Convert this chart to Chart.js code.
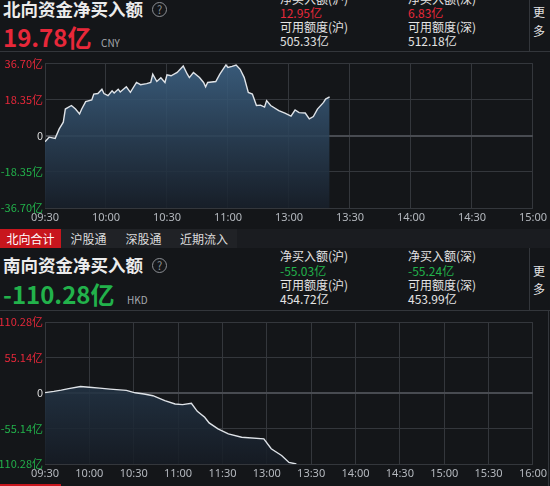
<!DOCTYPE html>
<html>
<head>
<meta charset="utf-8">
<script src="https://cdn.jsdelivr.net/npm/chart.js@4/dist/chart.umd.min.js"></script>
<style>
body { margin:0; background:#141619; width:550px; height:486px; overflow:hidden; position:relative;
       font-family:"Noto Sans CJK SC","Noto Sans",sans-serif; color:#e4e4e4; }
.abs { position:absolute; white-space:nowrap; line-height:1; }
.title { font-size:17.5px; font-weight:bold; color:#ececec; }
.big { font-size:24px; font-weight:bold; }
.cur { font-size:10px; color:#a4a8ae; }
.info { font-size:12px; }
.help { width:13px; height:13px; border:1.5px solid #8c8f94; border-radius:50%; color:#8c8f94;
        font-size:11px; text-align:center; line-height:13px; }
.hline { position:absolute; height:1px; background:#33363b; }
.vline { position:absolute; width:1px; background:#33363b; }
.red { color:#e8283a; }
.green { color:#22b24b; }
.tabs { position:absolute; left:0; top:229px; width:550px; height:19px; background:#1a1c20; }
.tab { position:absolute; top:0; height:19px; line-height:19px; font-size:12px; text-align:center; color:#dcdcdc; background:#202226; }
.tab.on { background:#c8161d; color:#fff; }
.box { position:absolute; left:0; width:550px; }
</style>
</head>
<body>

<!-- north bound header -->
<div class="abs title" style="left:3px;top:0px">北向资金净买入额</div>
<div class="abs help" style="left:152px;top:2px">?</div>
<div class="abs big red" style="left:3px;top:25px">19.78亿</div>
<div class="abs cur" style="left:101px;top:38px">CNY</div>
<div class="abs info" style="left:280px;top:-7px">净买入额(沪)</div>
<div class="abs info red" style="left:280px;top:7px">12.95亿</div>
<div class="abs info" style="left:280px;top:21px">可用额度(沪)</div>
<div class="abs info" style="left:280px;top:35px">505.33亿</div>
<div class="abs info" style="left:408px;top:-7px">净买入额(深)</div>
<div class="abs info red" style="left:408px;top:7px">6.83亿</div>
<div class="abs info" style="left:408px;top:21px">可用额度(深)</div>
<div class="abs info" style="left:408px;top:35px">512.18亿</div>
<div class="abs info" style="left:533px;top:6px">更</div>
<div class="abs info" style="left:533px;top:25px">多</div>
<div class="vline" style="left:529px;top:0;height:51px"></div>
<div class="hline" style="left:0;top:51px;width:550px"></div>

<div class="box" style="top:55px;height:170px"><canvas id="northChart" width="550" height="170"></canvas></div>

<div class="tabs">
  <div class="tab on" style="left:0;width:61px">北向合计</div>
  <div class="tab" style="left:61px;width:55px">沪股通</div>
  <div class="tab" style="left:116px;width:55px">深股通</div>
  <div class="tab" style="left:171px;width:66px">近期流入</div>
</div>

<!-- south bound header -->
<div class="abs title" style="left:3px;top:256px">南向资金净买入额</div>
<div class="abs help" style="left:152px;top:258px">?</div>
<div class="abs big green" style="left:3px;top:282px">-110.28亿</div>
<div class="abs cur" style="left:127px;top:295px">HKD</div>
<div class="abs info" style="left:280px;top:250px">净买入额(沪)</div>
<div class="abs info green" style="left:280px;top:265px">-55.03亿</div>
<div class="abs info" style="left:280px;top:279px">可用额度(沪)</div>
<div class="abs info" style="left:280px;top:293px">454.72亿</div>
<div class="abs info" style="left:408px;top:250px">净买入额(深)</div>
<div class="abs info green" style="left:408px;top:265px">-55.24亿</div>
<div class="abs info" style="left:408px;top:279px">可用额度(深)</div>
<div class="abs info" style="left:408px;top:293px">453.99亿</div>
<div class="abs info" style="left:533px;top:265px">更</div>
<div class="abs info" style="left:533px;top:283px">多</div>
<div class="vline" style="left:529px;top:248px;height:62px"></div>
<div class="hline" style="left:0;top:310px;width:550px"></div>
<div class="vline" style="left:548px;top:310px;height:176px"></div>

<div class="box" style="top:311px;height:175px"><canvas id="southChart" width="550" height="175"></canvas></div>
<div style="position:absolute;left:0;top:484px;width:61px;height:2px;background:#c8161d"></div>

<script>
// north bound (A-share session, minutes from 09:30, lunch removed)
var northMinutes = [0, 2, 5, 7, 9, 10, 13, 15, 17, 18, 20, 23, 24, 26, 28, 29, 31, 33, 34, 36, 37, 40, 42, 45, 47, 50,
    52, 53, 55, 57, 59, 60, 62, 65, 68, 70, 71, 73, 76, 78, 79, 80, 84, 86, 89, 90, 92, 94, 96, 98, 100, 102, 104,
    106, 108, 109, 111, 115, 118, 121, 123, 125, 128, 130, 132, 134, 137, 138, 140];
var northValues = [-3.0, -0.7, -1.3, 3.5, 6.9, 13.6, 15.4, 13.6, 11.1, 13.5, 17.4, 18.2, 21.2, 21.5, 23.7, 21.5, 20.4,
    22.9, 21.8, 23.7, 22.3, 24.9, 22.1, 27.1, 26.0, 26.5, 27.1, 31.3, 27.6, 29.5, 27.1, 31.0, 30.5, 32.2, 35.5, 31.3,
    29.6, 32.2, 29.6, 27.1, 24.9, 27.1, 27.6, 31.3, 36.0, 34.7, 35.3, 36.0, 33.8, 29.6, 22.0, 21.2, 15.4, 15.6, 14.6,
    17.9, 15.4, 12.8, 11.5, 10.0, 13.1, 11.8, 11.6, 8.6, 9.8, 13.6, 17.0, 18.7, 19.78];
var northTicks = ['09:30', '10:00', '10:30', '11:00', '13:00', '13:30', '14:00', '14:30', '15:00'];
var northMax = 36.70;

// south bound (HK session, minutes from 09:30, lunch removed)
var southMinutes = [0, 6, 11, 16, 24, 30, 37, 44, 55, 61, 67, 73, 81, 88, 93, 99, 103, 108, 111, 117, 124, 133, 148,
    153, 160, 165, 170];
var southValues = [0.5, 2.5, 4.5, 6.8, 10.0, 9.0, 7.5, 6.0, 4.0, 0.3, -1.5, -4.2, -11.9, -17.0, -18.1, -16.1, -28.5,
    -37.7, -46.4, -55.7, -63.4, -68.7, -71.2, -86.6, -97.0, -107.8, -110.28];
var southTicks = ['09:30', '10:00', '10:30', '11:00', '11:30', '13:00', '13:30', '14:00', '14:30', '15:00', '15:30', '16:00'];
var southMax = 110.28;

function makeChart(id, minutes, values, tickLabels, yMax, opts) {
    var points = minutes.map(function(m, i) { return { x: m, y: values[i] }; });
    var xMax = (tickLabels.length - 1) * 30;

    return new Chart(document.getElementById(id), {
        type: 'line',
        data: {
            datasets: [{
                data: points,
                borderColor: '#dfe3e8',
                borderWidth: 1.4,
                pointRadius: 0,
                tension: 0,
                fill: 'start',
                backgroundColor: function(ctx) {
                    var area = ctx.chart.chartArea;
                    if (!area) return 'rgba(0,0,0,0)';
                    var g = ctx.chart.ctx.createLinearGradient(0, area.top, 0, area.bottom);
                    g.addColorStop(0, opts.fillTop);
                    g.addColorStop(1, opts.fillBottom);
                    return g;
                }
            }]
        },
        options: {
            responsive: false,
            animation: false,
            devicePixelRatio: 1,
            layout: { padding: { left: 0, right: 16, top: opts.top, bottom: 0 } },
            plugins: { legend: { display: false }, tooltip: { enabled: false } },
            scales: {
                x: {
                    type: 'linear',
                    min: 0,
                    max: xMax,
                    afterBuildTicks: function(scale) {
                        scale.ticks = tickLabels.map(function(l, i) { return { value: i * 30 }; });
                    },
                    afterFit: function(scale) { scale.height = opts.xHeight; },
                    ticks: {
                        autoSkip: false,
                        maxRotation: 0,
                        padding: 3,
                        color: '#b4b8be',
                        font: { size: 11, family: 'Noto Sans' },
                        callback: function(v, i) { return tickLabels[i]; }
                    },
                    grid: { color: '#34373c', drawTicks: false },
                    border: { color: '#34373c' }
                },
                y: {
                    min: -yMax,
                    max: yMax,
                    afterBuildTicks: function(scale) {
                        scale.ticks = [-yMax, -yMax / 2, 0, yMax / 2, yMax].map(function(v) { return { value: v }; });
                    },
                    afterFit: function(scale) { scale.width = 45; },
                    ticks: {
                        padding: 2,
                        font: { size: 11, family: 'Noto Sans CJK SC' },
                        color: function(ctx) {
                            var v = ctx.tick.value;
                            return v > 0 ? '#e8283a' : (v < 0 ? '#22b24b' : '#dcdcdc');
                        },
                        callback: function(v) { return v === 0 ? '0' : v.toFixed(2) + '亿'; }
                    },
                    grid: {
                        drawTicks: false,
                        color: function(ctx) { return ctx.tick && ctx.tick.value === 0 ? '#484b51' : '#34373c'; },
                        lineWidth: function(ctx) { return ctx.tick && ctx.tick.value === 0 ? 2 : 1; }
                    },
                    border: { color: '#34373c' }
                }
            }
        }
    });
}

makeChart('northChart', northMinutes, northValues, northTicks, northMax, {
    top: 7, xHeight: 17,
    fillTop: 'rgba(62,100,134,0.88)', fillBottom: 'rgba(24,32,42,0.88)'
});
makeChart('southChart', southMinutes, southValues, southTicks, southMax, {
    top: 11, xHeight: 22,
    fillTop: 'rgba(46,72,96,0.88)', fillBottom: 'rgba(22,28,36,0.88)'
});
</script>
</body>
</html>
